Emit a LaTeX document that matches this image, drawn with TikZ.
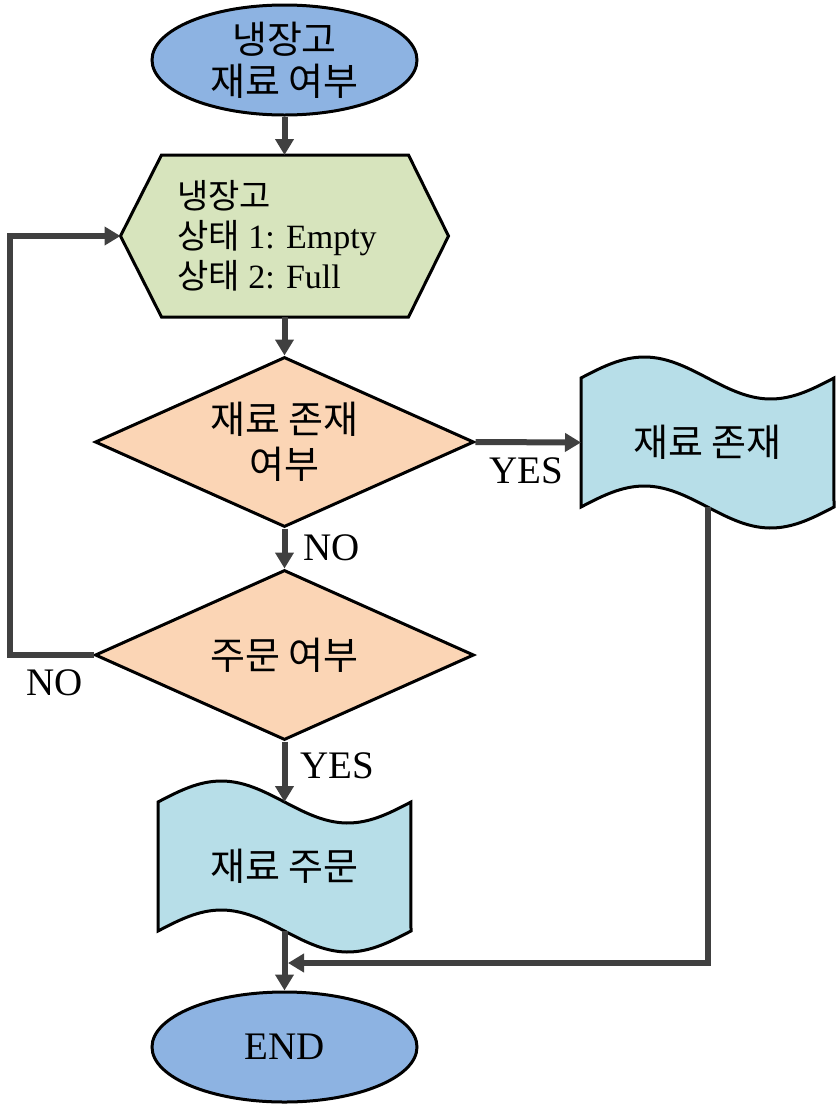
\documentclass[tikz,border=0pt]{standalone}
\usepackage{fontspec}
\setmainfont{Liberation Serif}
\newfontfamily\kr{Noto Sans CJK KR}
\newcommand\krh{\kr\fontsize{34pt}{40pt}\selectfont}
\usetikzlibrary{shapes.geometric,arrows.meta}
\definecolor{startblue}{HTML}{8DB3E2}
\definecolor{hexgreen}{HTML}{D7E4BD}
\definecolor{diapeach}{HTML}{FBD5B5}
\definecolor{tapeblue}{HTML}{B7DEE8}
\definecolor{arrgray}{HTML}{404040}
\newcommand\tapeshape[4]{%
  \filldraw[shapeline, fill=tapeblue] (#1,#3)
    -- plot[domain=0:1,samples=60] ({#1+(#2-#1)*\x},{#3-21*sin(360*\x)})
    -- (#2,#4)
    -- plot[domain=1:0,samples=60] ({#1+(#2-#1)*\x},{#4-21*sin(360*\x)})
    -- cycle;}
\begin{document}
\begin{tikzpicture}[x=1pt,y=-1pt,
  shapeline/.style={draw=black, line width=3pt, line join=miter},
  terminal/.style={shapeline, ellipse, fill=startblue, minimum width=265pt, minimum height=110pt, inner sep=0pt, align=center},
  decision/.style={shapeline, diamond, fill=diapeach, minimum width=379pt, minimum height=170pt, aspect=2.23, inner sep=0pt, align=center},
  tapebox/.style={draw=none, rectangle, inner sep=0pt, outer sep=0pt, align=center},
  krtext/.style={font=\kr\fontsize{38pt}{45pt}\selectfont},
  krstart/.style={font=\kr\fontsize{38pt}{42pt}\selectfont},
  lbl/.style={font=\fontsize{39pt}{44pt}\selectfont, inner sep=0pt},
  arr/.style={draw=arrgray, line width=6pt, -{Triangle[length=16pt,width=18pt]}},
]
\useasboundingbox (0,0) rectangle (836,1109);

% start terminal
\node[terminal, krstart] (start) at (284.5,60) {냉장고\\재료 여부};

% hexagon (preparation)
\node[tapebox, minimum width=328pt, minimum height=162pt] (hex) at (284.5,236) {};
\filldraw[shapeline, fill=hexgreen] ([xshift=41pt]hex.north west) -- ([xshift=-40pt]hex.north east)
  -- (hex.east) -- ([xshift=-40pt]hex.south east) -- ([xshift=41pt]hex.south west) -- (hex.west) -- cycle;
\node[anchor=west, inner sep=0pt, align=left, font=\fontsize{34pt}{40pt}\selectfont] (hexlabel) at (177,236)
  {{\krh 냉장고}\\{\krh 상태} 1: Empty\\{\krh 상태} 2: Full};

% decisions
\node[decision, krtext] (d1) at (284.5,442) {재료 존재\\여부};
\node[decision, krtext] (d2) at (284.5,655) {주문 여부};

% punched tape shapes
\tapeshape{581}{834}{378}{507}
\node[tapebox, krtext, minimum width=253pt, minimum height=129pt] (doc1) at (707.5,442.5) {재료 존재};
\tapeshape{158}{411}{802}{931}
\node[tapebox, krtext, minimum width=253pt, minimum height=129pt] (doc2) at (284.5,866.5) {재료 주문};

% end terminal
\node[terminal, lbl] (stop) at (284.5,1047) {END};

% connectors
\draw[arr] (start.south) -- (hex.north);
\draw[arr] (hex.south) -- (d1.north);
\draw[arr] (d1.east) -- (doc1.west);
\draw[arr] (d1.south) -- (d2.north);
\coordinate (loopx) at (10,0);
\draw[arr] (d2.west) -- (d2.west -| loopx) -- (hex.west -| loopx) -- (hex.west);
\draw[arr] (d2.south) -- (doc2.north);
\draw[arr] (doc2.south) -- (stop.north);
\coordinate (merge) at (288,963);
\draw[arr] (doc1.south) |- (merge);

% labels
\node[lbl] (yes1) at (526,471) {YES};
\node[lbl] (no1) at (332,548) {NO};
\node[lbl] (no2) at (55,683) {NO};
\node[lbl] (yes2) at (337,766) {YES};
\end{tikzpicture}
\end{document}
